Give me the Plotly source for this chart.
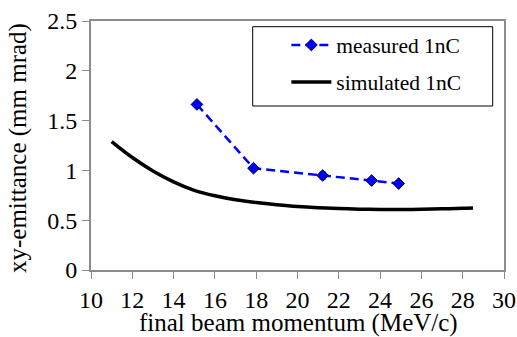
import plotly.graph_objects as go

# measured data
meas_x = [15.13, 17.87, 21.22, 23.59, 24.9]
meas_y = [1.662, 1.022, 0.949, 0.898, 0.868]
meas_err = [0.02, 0.025, 0.035, 0.02, 0.025]

# simulated curve
sim_x = [11, 12, 13, 14, 15, 16, 17, 18, 19, 20, 21, 22, 23, 24, 25, 26, 27, 28, 28.5]
sim_y = [1.29, 1.13, 0.995, 0.885, 0.80, 0.745, 0.705, 0.677, 0.655, 0.637, 0.625,
         0.617, 0.611, 0.607, 0.607, 0.61, 0.614, 0.619, 0.623]

x_ticks = [10, 12, 14, 16, 18, 20, 22, 24, 26, 28, 30]
y_ticks = [0, 0.5, 1, 1.5, 2, 2.5]
y_ticktext = ["0", "0.5", "1", "1.5", "2", "2.5"]

FONT = "Liberation Serif, Times New Roman, serif"
FS = 24
AX = "#8c8c8c"

fig = go.Figure()
fig.add_trace(go.Scatter(
    x=meas_x, y=meas_y, mode="lines+markers", name="measured 1nC",
    line=dict(color="#0000ff", width=2.5, dash="9px,5px"),
    marker=dict(symbol="diamond", size=9, color="#0000ff", line=dict(color="#000033", width=1)),
    error_y=dict(type="data", array=meas_err, visible=True, color="#000033", thickness=1, width=3),
    legendgroup="a",
))
fig.add_trace(go.Scatter(
    x=sim_x, y=sim_y, mode="lines", name="simulated 1nC",
    line=dict(color="black", width=3.5, shape="spline"),
    legendgroup="b",
))

fig.update_layout(
    width=517, height=337,
    margin=dict(l=91, r=13, t=21, b=67, autoexpand=False),
    paper_bgcolor="white", plot_bgcolor="white",
    font=dict(family=FONT, size=FS, color="black"),
    showlegend=True,
    legend=dict(x=0.473, y=0.986, xanchor="left", yanchor="top",
                bgcolor="rgba(0,0,0,0)", borderwidth=0, itemwidth=40,
                tracegroupgap=6, font=dict(family=FONT, size=21.5)),
    shapes=[dict(type="rect", xref="paper", yref="paper",
                 x0=(252.7 - 91) / 413, x1=(492.7 - 91) / 413,
                 y0=(270 - 106) / 249, y1=(270 - 26.7) / 249,
                 line=dict(color="black", width=1), fillcolor="rgba(0,0,0,0)")],
    annotations=[
        dict(text="xy-emittance (mm mrad)", xref="paper", yref="paper",
             x=(17.5 - 91) / 413, y=(270 - 148.5) / 249, textangle=-90,
             showarrow=False, xanchor="center", yanchor="middle",
             font=dict(family=FONT, size=25)),
        dict(text="final beam momentum (MeV/c)", xref="paper", yref="paper",
             x=(298.5 - 91) / 413, y=(270 - 323) / 249,
             showarrow=False, xanchor="center", yanchor="middle",
             font=dict(family=FONT, size=25)),
    ],
)
fig.update_xaxes(
    range=[10, 30], tickvals=x_ticks, ticks="outside", ticklen=7, tickcolor=AX,
    showline=True, linecolor=AX, linewidth=2, mirror=True, showgrid=False, zeroline=False,
    automargin=False, tickfont=dict(family=FONT, size=FS),
)
fig.update_yaxes(
    range=[0, 2.5], tickvals=y_ticks, ticktext=y_ticktext,
    ticks="outside", ticklen=7, tickcolor=AX, automargin=False,
    showline=True, linecolor=AX, linewidth=2, mirror=True, showgrid=False, zeroline=False,
    tickfont=dict(family=FONT, size=FS),
)
fig.write_html("out.html")
